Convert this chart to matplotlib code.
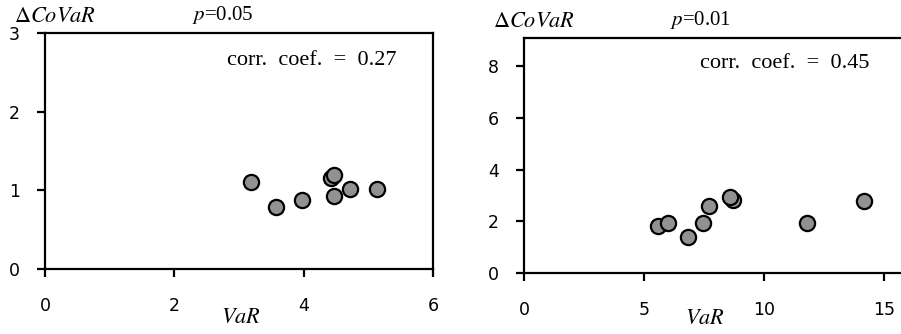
import matplotlib.pyplot as plt

plt.rcParams['mathtext.fontset'] = 'stix'
plt.rcParams['font.family'] = 'DejaVu Sans'

# VaR vs. delta-CoVaR, two confidence levels
var_05 = [3.19, 3.58, 3.97, 4.42, 4.47, 4.47, 4.72, 5.14]
covar_05 = [1.10, 0.79, 0.88, 1.16, 1.19, 0.93, 1.02, 1.02]
corr_05 = 0.27

var_01 = [5.57, 5.98, 6.85, 7.44, 7.71, 8.71, 8.57, 11.77, 14.16]
covar_01 = [1.82, 1.92, 1.38, 1.92, 2.59, 2.83, 2.94, 1.92, 2.78]
corr_01 = 0.45

fig = plt.figure(figsize=(9.01, 3.34), dpi=100)
ax1 = fig.add_axes([0.0499, 0.1946, 0.4306, 0.7066])
ax2 = fig.add_axes([0.5816, 0.1826, 0.4262, 0.7036])


def desenhar(ax, x, y, p, r, xlim, ylim, xticks, yticks, corr_pos, xlab_pos):
    ax.scatter(x, y, s=120, facecolor='#919191', edgecolor='black', linewidths=1.6, zorder=3, clip_on=False)
    ax.set_xlim(*xlim)
    ax.set_ylim(*ylim)
    ax.set_xticks(xticks)
    ax.set_yticks(yticks)
    for s in ax.spines.values():
        s.set_linewidth(1.6)
    ax.tick_params(direction='out', length=6, width=1.6, labelsize=12.5)
    ax.tick_params(axis='x', pad=14)
    ax.tick_params(axis='y', pad=12)
    ax.text(corr_pos[0], corr_pos[1], f'corr.  coef.  =  {r:.2f}', transform=ax.transAxes,
            ha='right', va='baseline', family='Liberation Serif', fontsize=16)
    ax.text(-0.08, 1.03, r'$\Delta CoVaR$', transform=ax.transAxes,
            ha='left', va='bottom', fontsize=16)
    ax.text(0.38, 1.03, r'$p$=' + f'{p}', transform=ax.transAxes,
            ha='left', va='bottom', family='Liberation Serif', fontsize=15,
            math_fontfamily='stix')
    ax.set_xlabel(r'$VaR$', fontsize=16, va='center')
    ax.xaxis.set_label_coords(*xlab_pos)


desenhar(ax1, var_05, covar_05, 0.05, corr_05, (0, 6), (0, 3), [0, 2, 4, 6], [0, 1, 2, 3],
         (0.907, 0.864), (0.505, -0.205))
desenhar(ax2, var_01, covar_01, 0.01, corr_01, (0, 16), (0, 9.1), [0, 5, 10, 15], [0, 2, 4, 6, 8],
         (0.90, 0.872), (0.471, -0.19))

plt.savefig('out.png', dpi=100)
